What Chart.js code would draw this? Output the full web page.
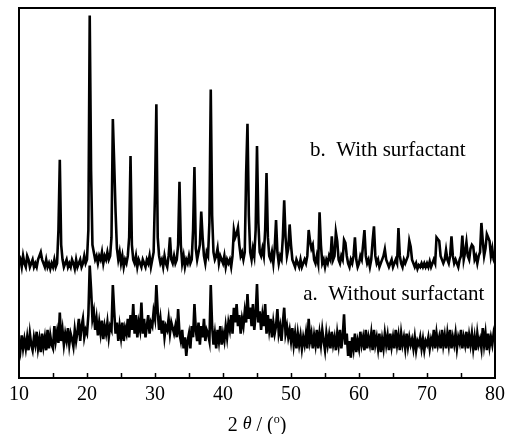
<!DOCTYPE html>
<html>
<head>
<meta charset="utf-8">
<script src="https://cdn.jsdelivr.net/npm/chart.js@4/dist/chart.umd.min.js"></script>
<style>
  html, body { margin: 0; padding: 0; background: #fff; }
  #wrap { width: 505px; height: 434px; }
</style>
</head>
<body>
<div id="wrap"><canvas id="xrdChart"></canvas></div>
<script>
// 2-theta sampling of the scans: 10 to 80 deg, every 0.2 deg
const thetaStart = 10;
const thetaStep = 0.2;
const xTicks = [10, 20, 30, 40, 50, 60, 70, 80];
const seriesLabels = ["a.  Without surfactant", "b.  With surfactant"];

// b. with surfactant (offset upward), one row per degree
const intensityB = [
  31, 32, 30, 33, 31,
  30, 33, 32, 30, 31,
  32, 30, 31, 30, 32,
  33, 34, 32, 31, 30,
  32, 30, 31, 29.5, 31,
  30, 32, 30, 31, 40,
  59, 36, 32, 30, 31,
  32, 30, 31, 30, 32,
  31, 29.5, 32, 30, 31,
  32, 30, 31, 33, 31,
  32, 40, 98, 56, 36,
  34, 32, 33, 31, 33,
  32, 34, 31, 33, 32,
  34, 32, 33, 38, 70,
  58, 45, 35, 32, 34,
  31, 33, 30, 32, 31,
  33, 38, 60, 36, 32,
  31, 33, 30, 32, 31,
  30, 32, 31, 30, 32,
  31, 33, 30, 32, 34,
  50, 74, 38, 33, 31,
  32, 30, 33, 31, 30,
  33, 38, 32, 31, 33,
  31, 32, 36, 53, 36,
  31, 33, 30, 32, 31,
  33, 31, 32, 40, 57,
  35, 32, 34, 36, 45,
  38, 33, 31, 34, 33,
  42, 78, 44, 34, 32,
  33, 35, 31, 33, 32,
  31, 33, 30, 32, 31,
  32, 30, 33, 40, 38,
  39, 40.6, 36, 33, 34,
  32, 34, 55, 68.7, 44,
  34, 32, 35, 33, 40,
  62.7, 42, 34, 33, 35,
  33, 40, 55.4, 38, 33,
  32, 34, 31, 35, 42.7,
  34, 31, 33, 32, 38,
  48, 38, 33, 35, 41.5,
  36, 32, 31, 30, 32,
  31, 30, 32, 30, 31,
  32, 31, 33, 40, 37,
  35, 36, 32, 31, 33,
  31, 44.8, 36, 31, 32,
  30, 32, 31, 33, 32,
  38.3, 32, 33, 39.4, 37,
  32, 31, 33, 32, 37.3,
  36.5, 33, 31, 30, 32,
  31, 33, 38, 32, 30,
  31, 33, 32, 36, 40,
  33, 31, 32, 30, 32,
  37, 41, 33, 31, 32,
  30, 31, 32, 33, 34.8,
  32, 31, 30, 31, 32,
  30, 31, 32, 31, 40.5,
  33, 31, 30, 32, 31,
  32, 33, 37.1, 35.5, 32,
  31, 30, 31, 29.5, 30.5,
  30, 31, 30, 31, 30,
  31, 30, 31.5, 30, 31,
  32, 31, 38, 37.5, 37,
  33, 32, 31, 32, 34.6,
  32, 31, 33, 38.3, 33,
  31, 32, 31, 30, 32,
  33, 38.5, 32, 34, 36.7,
  33, 32, 35, 36, 35.5,
  32, 33, 31, 33, 34,
  41.9, 37, 33, 35, 38.9,
  38, 37, 33, 35, 32,
  31
];

// a. without surfactant (lower trace)
const intensityA = [
  10, 7.5, 11.5, 8, 10.5,
  8, 11, 7.5, 12, 9,
  7.5, 11, 9, 12.5, 8,
  10.5, 7, 12, 8.5, 11,
  7.5, 13, 8, 11.5, 9,
  8, 14, 10, 12.5, 9.5,
  17.7, 10, 13, 9, 12,
  10, 13.5, 9, 12, 10.5,
  8.5, 13, 10, 12.5, 16,
  10, 14, 16, 11, 13,
  12, 17, 30.4, 24, 16,
  18, 13, 16, 11.5, 15,
  12, 15.5, 10.5, 14, 12,
  15, 11, 14, 13, 25.1,
  18, 12, 15, 10, 14,
  11, 15, 10, 13.5, 12,
  16, 11, 17, 13, 20,
  12, 17, 11, 15, 13,
  20.4, 12, 16, 11, 14,
  17, 12, 15, 14, 18,
  16, 25.1, 18, 13, 16,
  12, 15.5, 11, 14, 13,
  16, 12, 15, 13.5, 12,
  14, 11, 18.6, 12, 10,
  13, 8, 11, 6, 10,
  12, 8, 14, 11, 20,
  13, 10, 15, 9, 14,
  11, 16, 10, 13, 12,
  10, 25.1, 14, 9, 12,
  8, 13, 10, 14, 9,
  12, 10, 14, 11, 15,
  13, 17, 12, 19, 15,
  20, 14, 17, 12, 16,
  14, 18, 15, 22.7, 16,
  19, 14, 20, 13, 17,
  25.4, 15, 18, 13, 17,
  14, 20, 12, 17, 13,
  16, 11, 15, 12, 14,
  18.6, 12, 14, 10, 15,
  19, 12, 14, 11, 13,
  10, 13.5, 9, 12, 8,
  12, 9, 11.5, 8, 11,
  9, 12, 8, 16, 10,
  12, 8, 11.5, 9, 13,
  8, 12, 9, 13, 10,
  7.5, 12, 9, 11.5, 8,
  12.5, 9, 11, 7.5, 12,
  9, 13, 8, 11, 17.2,
  9, 12, 6, 10, 5.5,
  11, 8, 12, 7, 10,
  8, 12.5, 9, 11, 7.5,
  13, 8, 11, 9, 12,
  7.5, 13, 9, 11, 8,
  12, 7, 10.5, 8, 12,
  9, 11.5, 7.5, 12, 8.5,
  11, 8, 13, 9, 11.5,
  7.5, 12, 9, 11, 8,
  12, 8.5, 11, 9, 10.5,
  8, 11, 7.5, 10, 9,
  11, 8, 10.5, 7.5, 10,
  9, 11, 8, 10.5, 9,
  13, 8, 12, 9, 11,
  8, 13, 9, 11.5, 8,
  12, 9, 13, 8, 11,
  9, 12, 8, 11, 9.5,
  13, 8, 11, 9, 12.5,
  8, 11.5, 9, 12, 8,
  11, 7.5, 12, 9, 10.5,
  8, 13.5, 9, 12, 7.5,
  12, 8.5, 11, 9, 12,
  10
];

const serif = "'Liberation Serif', 'DejaVu Serif', serif";

function toPoints(values) {
  return values.map((v, i) => ({ x: +(thetaStart + i * thetaStep).toFixed(1), y: v }));
}

// frame, inward ticks, curve labels and axis title
const decorations = {
  id: "decorations",
  afterDraw(chart) {
    const ctx = chart.ctx;
    const area = chart.chartArea;
    const xs = chart.scales.x;
    ctx.save();
    ctx.strokeStyle = "#000";
    ctx.lineWidth = 2;
    ctx.strokeRect(area.left, area.top, area.right - area.left, area.bottom - area.top);

    ctx.lineWidth = 1.5;
    for (let t = 15; t < 80; t += 5) {
      const px = Math.round(xs.getPixelForValue(t)) + 0.5;
      ctx.beginPath();
      ctx.moveTo(px, area.bottom);
      ctx.lineTo(px, area.bottom - 5);
      ctx.stroke();
    }

    ctx.fillStyle = "#000";
    ctx.font = "21px " + serif;
    ctx.textBaseline = "middle";
    ctx.textAlign = "left";
    ctx.fillText(seriesLabels[1], xs.getPixelForValue(52.8), chart.scales.y.getPixelForValue(61.5));
    ctx.fillText(seriesLabels[0], xs.getPixelForValue(51.8), chart.scales.y.getPixelForValue(22.5));

    // "2 θ / (º)" with italic theta and raised o
    const ty = 426;
    const cx = (area.left + area.right) / 2;
    const p1 = "2 ", p3 = " / (", p5 = ")";
    const big = "20px " + serif;
    ctx.font = big;
    const w1 = ctx.measureText(p1).width;
    const w3 = ctx.measureText(p3).width;
    const w5 = ctx.measureText(p5).width;
    ctx.font = "italic 18px " + serif;
    const w2 = ctx.measureText("θ").width;
    ctx.font = "12px " + serif;
    const w4 = ctx.measureText("o").width;
    let x = cx - (w1 + w2 + w3 + w4 + w5) / 2;
    ctx.font = big;
    ctx.fillText(p1, x, ty); x += w1;
    ctx.font = "italic 18px " + serif;
    ctx.fillText("θ", x, ty - 2); x += w2;
    ctx.font = big;
    ctx.fillText(p3, x, ty); x += w3;
    ctx.font = "12px " + serif;
    ctx.fillText("o", x, ty - 6); x += w4;
    ctx.font = big;
    ctx.fillText(p5, x, ty);
    ctx.restore();
  }
};

new Chart(document.getElementById("xrdChart"), {
  type: "line",
  data: {
    datasets: [
      { label: seriesLabels[0], data: toPoints(intensityA) },
      { label: seriesLabels[1], data: toPoints(intensityB) }
    ]
  },
  options: {
    responsive: true,
    maintainAspectRatio: false,
    animation: false,
    elements: {
      line: { borderColor: "#000", borderWidth: 2.6, tension: 0, borderJoinStyle: "miter" },
      point: { radius: 0 }
    },
    layout: { padding: { left: 19, right: 10, top: 8, bottom: 22 } },
    plugins: { legend: { display: false }, tooltip: { enabled: false } },
    scales: {
      x: {
        type: "linear",
        min: 10,
        max: 80,
        afterBuildTicks: (s) => { s.ticks = xTicks.map(v => ({ value: v })); },
        afterFit: (s) => { s.paddingLeft = 0; s.paddingRight = 0; },
        grid: { display: false, drawTicks: false, tickLength: 0 },
        border: { display: false },
        ticks: { color: "#000", font: { family: serif, size: 20 }, padding: 5, maxRotation: 0 }
      },
      y: {
        type: "linear",
        min: 0,
        max: 100,
        display: false
      }
    }
  },
  plugins: [decorations]
});
</script>
</body>
</html>
